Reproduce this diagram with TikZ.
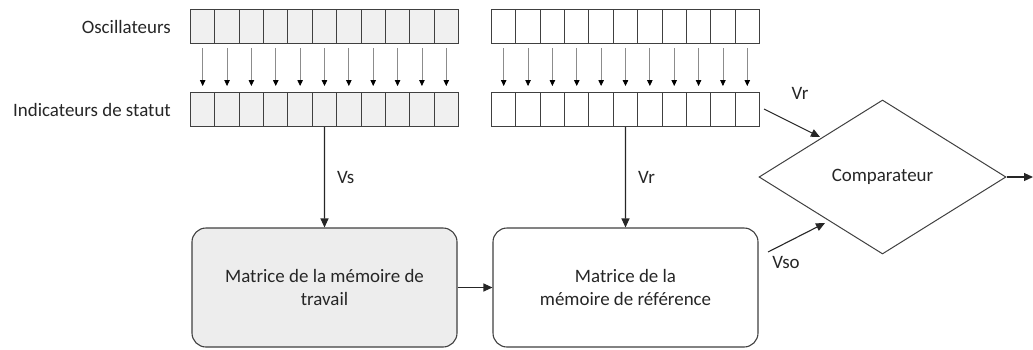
\documentclass[tikz,border=0pt]{standalone}
\usepackage{fontspec}
\setmainfont{Carlito}
\usetikzlibrary{arrows.meta,shapes.geometric}
\definecolor{txt}{HTML}{262626}
\definecolor{edge}{HTML}{404040}
\begin{document}
\begin{tikzpicture}[x=1bp,y=-1bp,
  font=\fontsize{19}{24}\selectfont, text=txt,
  cellA/.style={draw=edge, line width=1bp, fill=black!6, minimum width=24.36bp, minimum height=34bp, inner sep=0, anchor=north west},
  cellB/.style={draw=edge, line width=1bp, fill=white, minimum width=24.36bp, minimum height=34bp, inner sep=0, anchor=north west},
  small arrow/.style={draw=black!45, line width=0.8bp, -{Triangle[width=5.5bp,length=6bp,color=black]}},
  big arrow/.style={draw=black!85, line width=1.1bp, -{Triangle[width=8bp,length=9bp]}},
  box/.style={draw=edge, line width=1.1bp, rounded corners=14bp, minimum width=265bp, minimum height=119bp, align=center, inner sep=0},
  lbl/.style={inner sep=0}
]
\useasboundingbox (0,0) rectangle (1033,349);

% label texts
\node[lbl, anchor=east] (osc) at (171,27) {Oscillateurs};
\node[lbl, anchor=east] (ind) at (171,110) {Indicateurs de statut};

% strips
\foreach \i in {1,...,11}{
  \node[cellA] (ta\i) at ({190+(\i-1)*24.36},9) {};
  \node[cellA] (ba\i) at ({190+(\i-1)*24.36},92) {};
  \node[cellB] (tb\i) at ({491+(\i-1)*24.36},9) {};
  \node[cellB] (bb\i) at ({491+(\i-1)*24.36},92) {};
  \draw[small arrow] ([yshift=-4bp]ta\i.south) -- ([yshift=6bp]ba\i.north);
  \draw[small arrow] ([yshift=-4bp]tb\i.south) -- ([yshift=6bp]bb\i.north);
}

% boxes
\node[box, fill=black!7] (work) at (324.5,287.5) {Matrice de la mémoire de\\travail};
\node[box, fill=white] (ref) at (625.5,287.5) {Matrice de la\\mémoire de référence};

% comparator
\node[draw=edge, line width=1bp, diamond, minimum width=247bp, minimum height=154bp, inner sep=0, aspect=1.6] (cmp) at (882.5,177) {Comparateur};

% main connectors
\draw[big arrow] (ba6.south) -- node[right=12bp, lbl] {Vs} (work.north);
\draw[big arrow] (bb6.south) -- node[right=12bp, lbl] {Vr} (ref.north);
\draw[big arrow] (work.east) -- (ref.west);

\coordinate (vrs) at (764,109);
\coordinate (vre) at (820,137);
\draw[big arrow] (vrs) -- (vre);
\node[lbl] (vrl) at (800,93) {Vr};

\coordinate (vss) at (768,252);
\coordinate (vse) at (825,223);
\draw[big arrow] (vss) -- (vse);
\node[lbl] (vsl) at (786,262) {Vso};

\coordinate (out) at (1033,177);
\draw[big arrow] (cmp.east) -- (out);
\end{tikzpicture}
\end{document}
